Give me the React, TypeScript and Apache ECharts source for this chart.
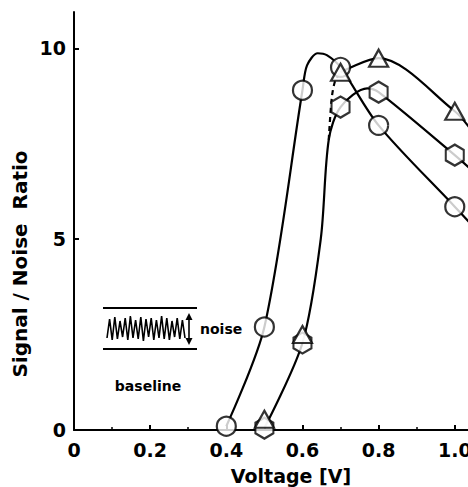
import React, { useEffect, useRef } from "react";
import * as echarts from "echarts";

// measured markers
const circleVoltage = [0.4, 0.5, 0.6, 0.7, 0.8, 1.0];
const circleRatio = [0.1, 2.7, 8.9, 9.5, 7.98, 5.85];
const triangleVoltage = [0.5, 0.6, 0.7, 0.8, 1.0];
const triangleRatio = [0.28, 2.5, 9.37, 9.74, 8.35];
const hexagonVoltage = [0.5, 0.6, 0.7, 0.8, 1.0];
const hexagonRatio = [0.05, 2.28, 8.46, 8.85, 7.2];

// hand-drawn guide curves
const circleCurveV = [0.4, 0.5, 0.6, 0.612, 0.64, 0.664, 0.7, 0.8, 1.0, 1.04];
const circleCurveR = [0.1, 2.7, 8.9, 9.55, 9.87, 9.82, 9.5, 7.98, 5.85, 5.42];
const hexagonCurveV = [0.5, 0.6, 0.648, 0.669, 0.7, 0.77, 0.8, 1.0, 1.04];
const hexagonCurveR = [0.05, 2.28, 5.0, 7.6, 8.46, 8.95, 8.85, 7.2, 6.85];
const triangleDashV = [0.669, 0.677, 0.686, 0.7];
const triangleDashR = [7.6, 8.7, 9.15, 9.37];
const triangleCurveV = [0.7, 0.8, 1.0, 1.04];
const triangleCurveR = [9.37, 9.74, 8.35, 7.9];

const xLabelValues = [0, 0.2, 0.4, 0.6, 0.8, 1.0];
const xMinorTicks = [0.1, 0.3, 0.5, 0.7, 0.9];
const yLabelValues = [0, 5, 10];
const yTickValues = [5, 10];

// inset sketch of noise trace (decoration)
const noiseTraceY = [338, 319, 340, 317, 339, 321, 337, 318, 340, 316, 338, 320, 339, 317, 341, 319, 337, 318, 340, 320, 338, 316, 339, 318, 340, 321, 337, 318, 339, 320, 338];

const zip = (a: number[], b: number[]) => a.map((v, i) => [v, b[i]]);

export default function App() {
  const ref = useRef<HTMLDivElement>(null);
  useEffect(() => {
    document.body.style.margin = "0";
    const chart = echarts.init(ref.current!, null, { renderer: "svg" });
    const font = "DejaVu Sans";
    const curve = (data: number[][], dashed = false) => ({
      type: "line",
      data,
      symbol: "none",
      showSymbol: false,
      smooth: 0.3,
      lineStyle: { color: "#000", width: 2.2, type: dashed ? [5, 4] : "solid" },
      z: 2,
      silent: true,
    });
    const marker = (data: number[][], symbol: string, size: any, z: number) => ({
      type: "scatter",
      data,
      symbol,
      symbolSize: size,
      itemStyle: { color: "#fff", borderColor: "#000", borderWidth: 2.2 },
      z,
      silent: true,
    });
    const hexagon = "path://M0,-1 L0.866,-0.5 L0.866,0.5 L0,1 L-0.866,0.5 L-0.866,-0.5 Z";
    const tracePts = noiseTraceY.map((y, i) => [107 + i * 2.6, y]);

    chart.setOption({
      animation: false,
      backgroundColor: "#fff",
      grid: { left: 74, right: -2, top: 12, bottom: 57, containLabel: false, outerBoundsMode: "none" },
      xAxis: [
        {
          type: "value",
          min: 0,
          max: 1.04,
          interval: 0.2,
          splitLine: { show: false },
          axisLine: { onZero: false, lineStyle: { color: "#000", width: 2 } },
          axisTick: { inside: true, length: 5, customValues: [0.2, 0.4, 0.6, 0.8, 1.0], lineStyle: { color: "#000", width: 2 } },
          axisLabel: {
            customValues: xLabelValues,
            formatter: (v: number) => (v === 0 ? "0" : v.toFixed(1)),
            color: "#000",
            fontFamily: font,
            fontWeight: "bold",
            fontSize: 19,
            margin: 10,
          },
        },
        {
          type: "value",
          position: "bottom",
          min: 0,
          max: 1.04,
          interval: 0.2,
          splitLine: { show: false },
          axisLine: { show: false, onZero: false },
          axisTick: { inside: true, length: 3, customValues: xMinorTicks, lineStyle: { color: "#000", width: 1.5 } },
          axisLabel: { show: false },
        },
      ],
      yAxis: {
        type: "value",
        min: 0,
        max: 10.95,
        interval: 5,
        splitLine: { show: false },
        axisLine: { onZero: false, lineStyle: { color: "#000", width: 2 } },
        axisTick: { inside: true, length: 5, customValues: yTickValues, lineStyle: { color: "#000", width: 2 } },
        axisLabel: { customValues: yLabelValues, color: "#000", fontFamily: font, fontWeight: "bold", fontSize: 19, margin: 8 },
      },
      series: [
        curve(zip(circleCurveV, circleCurveR)),
        curve(zip(hexagonCurveV, hexagonCurveR)),
        curve(zip(triangleDashV, triangleDashR), true),
        curve(zip(triangleCurveV, triangleCurveR)),
        marker(zip(circleVoltage, circleRatio), "circle", 19, 3),
        marker(zip(hexagonVoltage, hexagonRatio), hexagon, [18, 21], 4),
        marker(zip(triangleVoltage, triangleRatio), "triangle", [19, 17], 5),
      ],
      graphic: [
        { type: "line", shape: { x1: 103, y1: 308, x2: 197, y2: 308 }, style: { stroke: "#000", lineWidth: 2 } },
        { type: "line", shape: { x1: 103, y1: 349, x2: 197, y2: 349 }, style: { stroke: "#000", lineWidth: 2 } },
        { type: "polyline", shape: { points: tracePts }, style: { stroke: "#000", lineWidth: 1.6, fill: null } },
        { type: "line", shape: { x1: 189, y1: 318, x2: 189, y2: 340 }, style: { stroke: "#000", lineWidth: 1.6 } },
        { type: "polygon", shape: { points: [[189, 313], [185.5, 320], [192.5, 320]] }, style: { fill: "#000" } },
        { type: "polygon", shape: { points: [[189, 345], [185.5, 338], [192.5, 338]] }, style: { fill: "#000" } },
        {
          type: "text",
          x: 200,
          y: 329,
          style: { text: "noise", fill: "#000", font: `bold 14px "${font}"`, textAlign: "left", textVerticalAlign: "middle" },
        },
        {
          type: "text",
          x: 148,
          y: 386,
          style: { text: "baseline", fill: "#000", font: `bold 14px "${font}"`, textAlign: "center", textVerticalAlign: "middle" },
        },
        {
          type: "text",
          x: 291,
          y: 476,
          style: { text: "Voltage [V]", fill: "#000", font: `bold 19px "${font}"`, textAlign: "center", textVerticalAlign: "middle" },
        },
        {
          type: "text",
          x: 20,
          y: 264,
          rotation: Math.PI / 2,
          style: { text: "Signal / Noise  Ratio", fill: "#000", font: `bold 20px "${font}"`, textAlign: "center", textVerticalAlign: "middle" },
        },
      ],
    });
    return () => chart.dispose();
  }, []);
  return <div ref={ref} style={{ width: 468, height: 487 }} />;
}
